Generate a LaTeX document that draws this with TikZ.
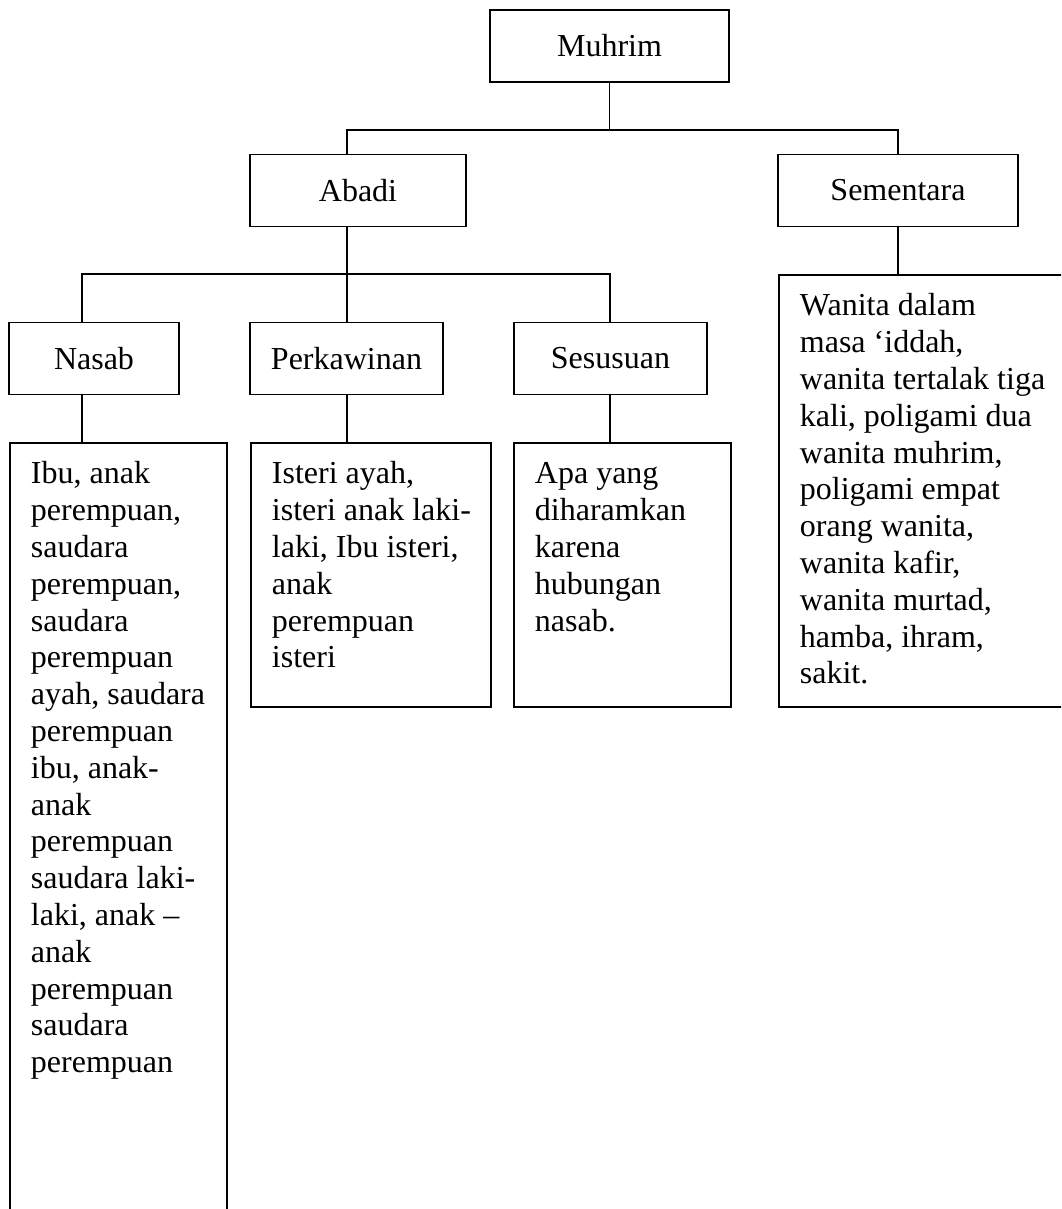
\documentclass[tikz,border=0pt]{standalone}
\usepackage{fontspec}
\setmainfont{Liberation Serif}

\newcommand{\bigtext}{\fontsize{24pt}{27.6pt}\selectfont}
% text set at the top of a framed box: width, height, lines
\newcommand{\listtext}[3]{\parbox[t][#2][t]{#1}{\raggedright\leftskip=15.75pt\relax\vspace*{11.4pt}\strut#3}}

\begin{document}
\begin{tikzpicture}[x=0.75pt,y=-0.75pt,line width=1.4pt,
        headbox/.style={draw,minimum height=54pt,inner sep=0pt,font=\bigtext},
        listbox/.style={draw,anchor=north west,inner sep=0pt,font=\bigtext}]
    \useasboundingbox (0,0) rectangle (1061,1209);
    \clip (0,0) rectangle (1061,1209);

    \node (muhrim) at (609.5,46) [headbox,minimum width=179.25pt] {Muhrim};
    \node (abadi) at (358,190.5) [headbox,minimum width=162pt] {Abadi};
    \node (sementara) at (898,190.5) [headbox,minimum width=180pt] {Sementara};
    \node (nasab) at (94,358.5) [headbox,minimum width=127.5pt] {Nasab};
    \node (perkawinan) at (346.5,358.5) [headbox,minimum width=144.75pt] {Perkawinan};
    \node (sesusuan) at (610.5,358.5) [headbox,minimum width=144.75pt] {Sesusuan};

    \node (nasabtxt) at (9,442) [listbox] {\listtext{162.75pt}{600pt}{Ibu, anak\\perempuan,\\saudara\\perempuan,\\saudara\\perempuan\\ayah, saudara\\perempuan\\ibu, anak-\\anak\\perempuan\\saudara laki-\\laki, anak --\\anak\\perempuan\\saudara\\perempuan}};
    \node (perkawinantxt) at (250,442) [listbox] {\listtext{180pt}{198pt}{Isteri ayah,\\isteri anak laki-\\laki, Ibu isteri,\\anak\\perempuan\\isteri}};
    \node (sesusuantxt) at (513,442) [listbox] {\listtext{162.75pt}{198pt}{Apa yang\\diharamkan\\karena\\hubungan\\nasab.}};
    \node (sementaratxt) at (778,274) [listbox] {\listtext{230pt}{324pt}{Wanita dalam\\masa ‘iddah,\\wanita tertalak tiga\\kali, poligami dua\\wanita muhrim,\\poligami empat\\orang wanita,\\wanita kafir,\\wanita murtad,\\hamba, ihram,\\sakit.}};

    \coordinate (bar1l) at (347,130);
    \coordinate (bar1r) at (898,130);
    \coordinate (bar2l) at (82,274);
    \coordinate (bar2m) at (347,274);
    \coordinate (bar2r) at (610,274);

    \draw (muhrim.south) -- (muhrim.south |- bar1l);
    \draw (bar1l |- abadi.north) -- (bar1l) -- (bar1r) -- (bar1r |- sementara.north);
    \draw (bar2m |- abadi.south) -- (bar2m);
    \draw (bar2l |- nasab.north) -- (bar2l) -- (bar2r) -- (bar2r |- sesusuan.north);
    \draw (bar2m) -- (bar2m |- perkawinan.north);
    \draw (bar2l |- nasab.south) -- (bar2l |- nasabtxt.north);
    \draw (bar2m |- perkawinan.south) -- (bar2m |- perkawinantxt.north);
    \draw (bar2r |- sesusuan.south) -- (bar2r |- sesusuantxt.north);
    \draw (bar1r |- sementara.south) -- (bar1r |- sementaratxt.north);

\end{tikzpicture}
\end{document}
